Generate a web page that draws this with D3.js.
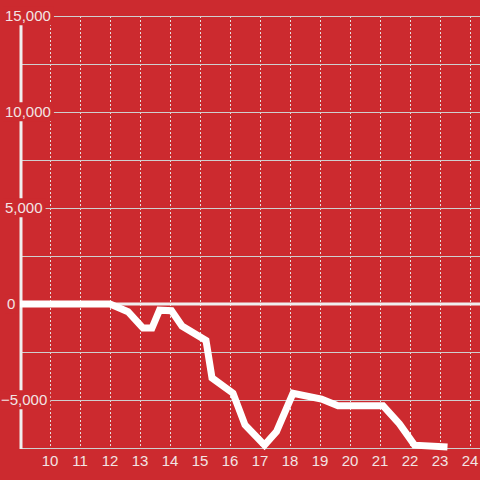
<!DOCTYPE html>
<html>
<head>
<meta charset="utf-8">
<script src="https://cdn.jsdelivr.net/npm/d3@7"></script>
<style>
  body { margin: 0; background: #cc2a2f; }
  svg { display: block; }
  text { font-family: "Liberation Sans", Arial, sans-serif; font-size: 15px; fill: #f2e4e4; }
</style>
</head>
<body>
<div id="chart"></div>
<script>
// data
var hours = [9, 12, 12.6, 13.1, 13.4, 13.65, 14.05, 14.4, 15.2, 15.4, 16.1, 16.5, 17.15, 17.55, 18.1, 19.05, 19.6, 21.1, 21.65, 22.15, 23.25];
var values = [0, 0, -400, -1250, -1250, -320, -350, -1150, -1900, -3850, -4650, -6300, -7350, -6650, -4650, -4950, -5300, -5300, -6250, -7350, -7450];
var xTicks = [10, 11, 12, 13, 14, 15, 16, 17, 18, 19, 20, 21, 22, 23, 24];
var yTicks = [-5000, 0, 5000, 10000, 15000];
var yGrid = [-7500, -5000, -2500, 2500, 5000, 7500, 10000, 12500, 15000];

var width = 480, height = 480;
var bg = "#cc2a2f";

var svg = d3.select("#chart").append("svg")
    .attr("width", width)
    .attr("height", height);

svg.append("rect")
    .attr("width", width)
    .attr("height", height)
    .attr("fill", bg);

var xScale = d3.scaleLinear().domain([9, 9 + 460 / 30]).range([20, 480]);
var yScale = d3.scaleLinear().domain([-7500, 15000]).range([448, 16]);

// vertical dotted grid
svg.append("g").selectAll("line")
    .data(xTicks)
    .enter()
    .append("line")
    .attr("x1", d => Math.round(xScale(d)) + 0.5)
    .attr("x2", d => Math.round(xScale(d)) + 0.5)
    .attr("y1", yScale(15000))
    .attr("y2", yScale(-7500))
    .attr("stroke", "#e6dede")
    .attr("stroke-width", 1)
    .attr("stroke-dasharray", "2,2");

// horizontal grid
svg.append("g").selectAll("line")
    .data(yGrid)
    .enter()
    .append("line")
    .attr("x1", 20)
    .attr("x2", width)
    .attr("y1", d => Math.round(yScale(d)) + 0.5)
    .attr("y2", d => Math.round(yScale(d)) + 0.5)
    .attr("stroke", "#cfcfcf")
    .attr("stroke-width", 1);

// zero line
svg.append("line")
    .attr("x1", 20)
    .attr("x2", width)
    .attr("y1", yScale(0))
    .attr("y2", yScale(0))
    .attr("stroke", "#f0eeee")
    .attr("stroke-width", 3);

// left axis line
svg.append("line")
    .attr("x1", 21)
    .attr("x2", 21)
    .attr("y1", yScale(15000))
    .attr("y2", yScale(-7500) + 1)
    .attr("stroke", "#f0eeee")
    .attr("stroke-width", 3);

// data line
var line = d3.line()
    .x((d, i) => xScale(hours[i]))
    .y(d => yScale(d));

svg.append("path")
    .datum(values)
    .attr("d", line)
    .attr("fill", "none")
    .attr("stroke", "#ffffff")
    .attr("stroke-width", 7)
    .attr("stroke-linejoin", "miter");

// y labels with background boxes
var yLabels = svg.append("g").selectAll("g")
    .data(yTicks)
    .enter()
    .append("g");

yLabels.append("rect").attr("fill", bg);

yLabels.append("text")
    .attr("x", d => d < 0 ? 1 : (d === 0 ? 7 : 5))
    .attr("y", d => yScale(d))
    .attr("dy", "0.35em")
    .text(d => d3.format(",")(d));

yLabels.each(function() {
    var g = d3.select(this);
    var b = g.select("text").node().getBBox();
    g.select("rect")
        .attr("x", b.x - 2)
        .attr("y", b.y - 1)
        .attr("width", b.width + 5)
        .attr("height", b.height + 2);
});

// x labels
svg.append("g").selectAll("text")
    .data(xTicks)
    .enter()
    .append("text")
    .attr("x", d => xScale(d))
    .attr("y", 466)
    .attr("text-anchor", "middle")
    .text(d => d);
</script>
</body>
</html>
